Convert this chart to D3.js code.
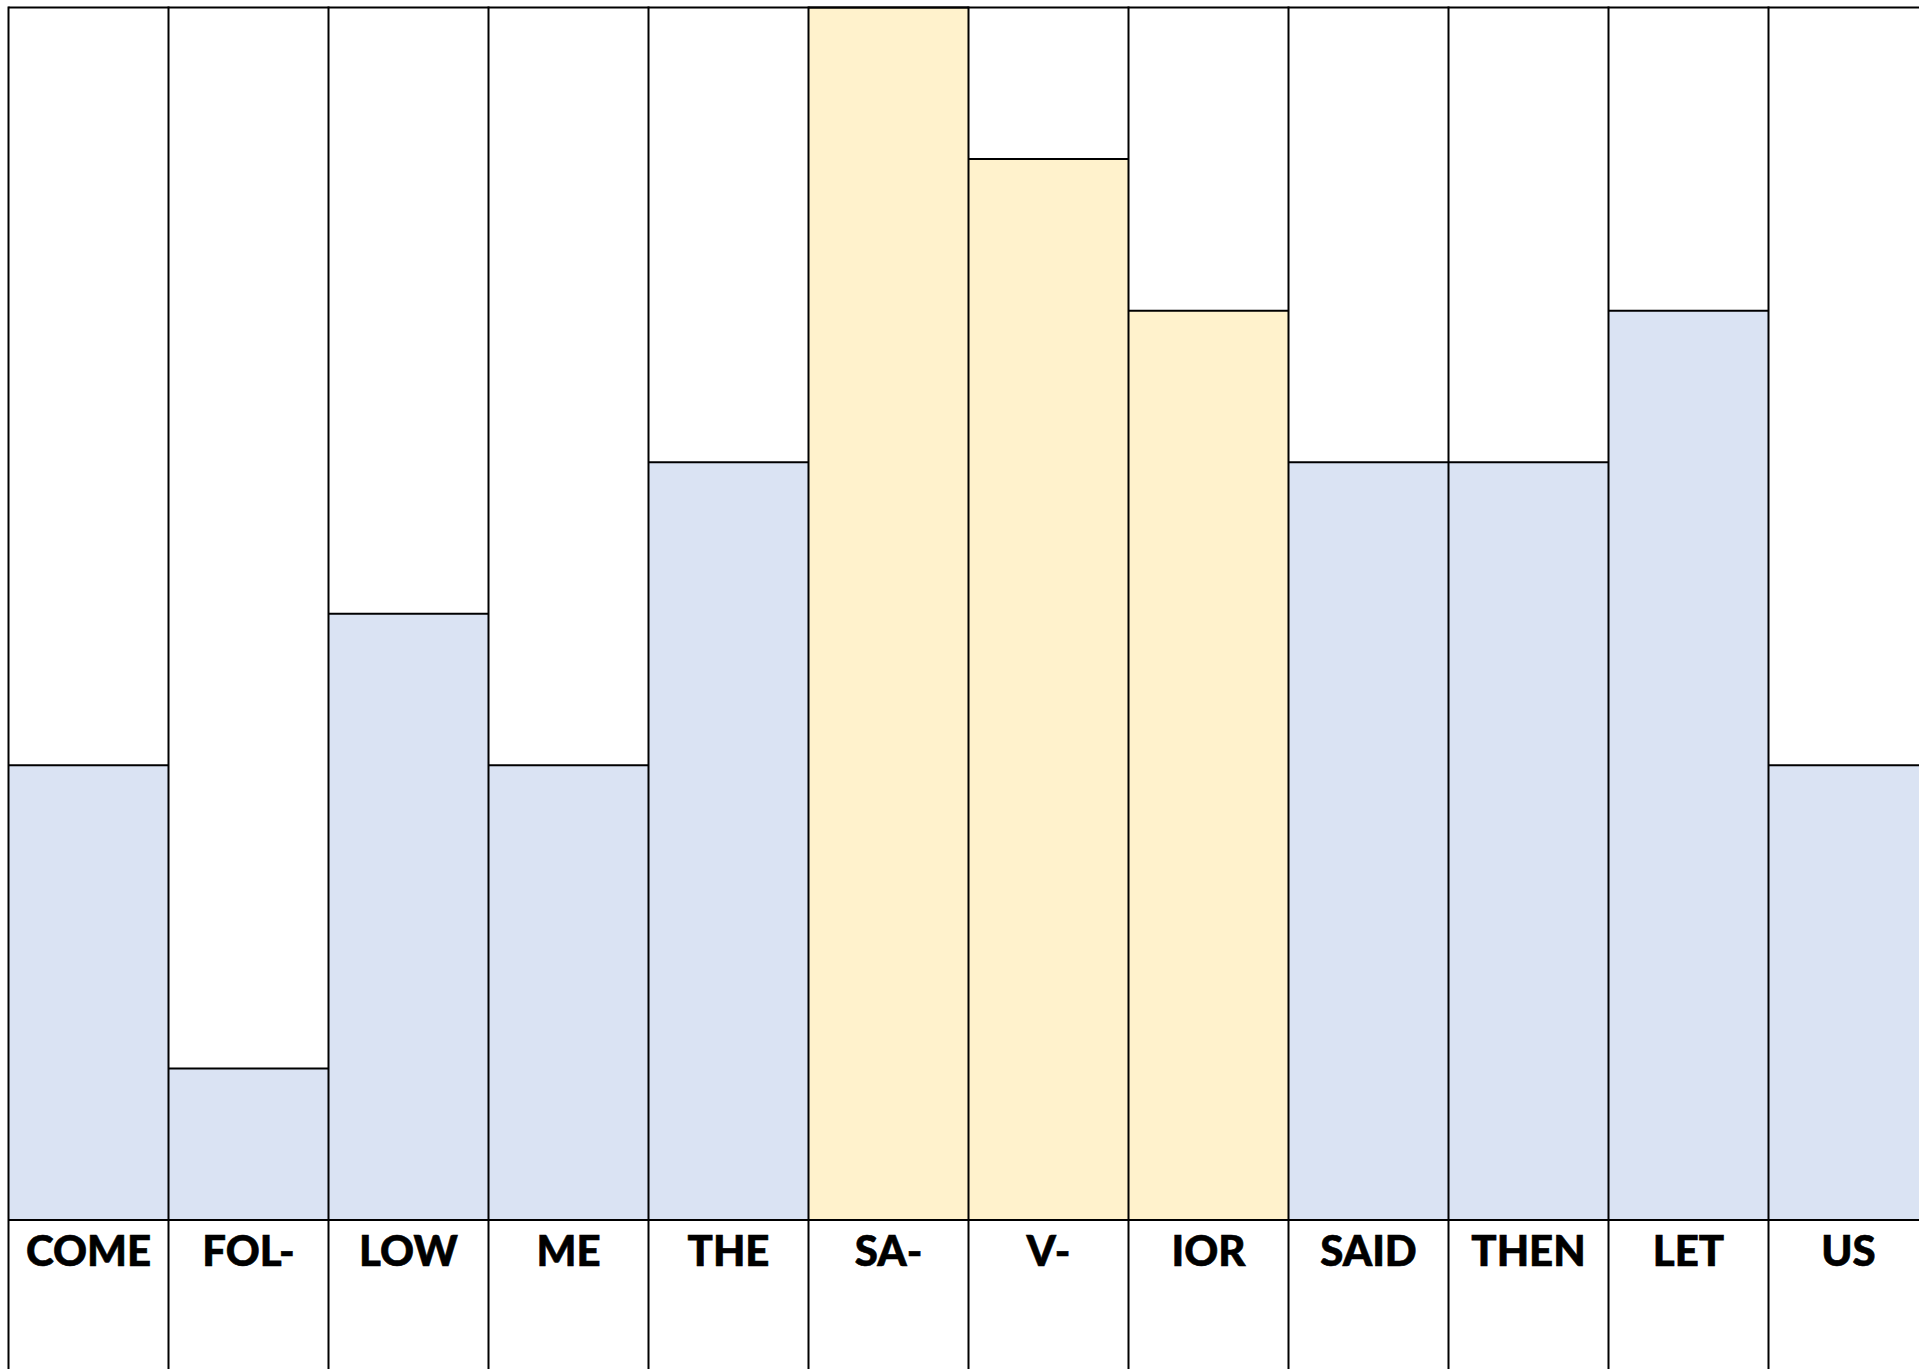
<!DOCTYPE html>
<html>
<head>
<meta charset="utf-8">
<script src="https://cdn.jsdelivr.net/npm/d3@7"></script>
<style>
  html, body { margin: 0; padding: 0; background: #fff; overflow: hidden; }
  .syll { font-family: Lato, "Open Sans", sans-serif; font-weight: 900; font-size: 42px; fill: #000; stroke: #000; stroke-width: 0.6px; }
</style>
</head>
<body>
<div id="chart"></div>
<script>
// Syllables of the song line and the pitch step of each note
var syllables = ["COME", "FOL-", "LOW", "ME", "THE", "SA-", "V-", "IOR", "SAID", "THEN", "LET", "US"];
var steps = [3, 1, 4, 3, 5, 8, 7, 6, 5, 5, 6, 3];
var highlighted = ["SA-", "V-", "IOR"];
var levels = [0, 1, 2, 3, 4, 5, 6, 7, 8];

var svgWidth = 1919;
var svgHeight = 1369;
var lineW = 2;

var svg = d3.select("#chart")
  .append("svg")
  .attr("width", svgWidth)
  .attr("height", svgHeight);

// Columns are 160px wide, starting just inside the left edge (last one is cut off)
var xScale = d3.scaleBand()
  .domain(syllables)
  .range([8.5, 8.5 + 160 * syllables.length])
  .padding(0);

var yScale = d3.scaleLinear()
  .domain([0, d3.max(levels)])
  .range([1220, 7.5]);

var baseY = yScale(0);
var topY = yScale(d3.max(levels));

// Colored bars
svg.selectAll(".bar")
  .data(syllables)
  .enter()
  .append("rect")
  .attr("class", "bar")
  .attr("x", function (d) { return xScale(d); })
  .attr("y", function (d, i) { return yScale(steps[i]); })
  .attr("width", xScale.bandwidth())
  .attr("height", function (d, i) { return baseY - yScale(steps[i]); })
  .attr("fill", function (d) { return highlighted.indexOf(d) >= 0 ? "#FFF2CC" : "#DAE3F3"; });

// Bar top edges
svg.selectAll(".bar-top")
  .data(syllables)
  .enter()
  .append("line")
  .attr("class", "bar-top")
  .attr("x1", function (d) { return xScale(d); })
  .attr("x2", function (d) { return xScale(d) + xScale.bandwidth(); })
  .attr("y1", function (d, i) { return yScale(steps[i]); })
  .attr("y2", function (d, i) { return yScale(steps[i]); })
  .attr("stroke", "#000")
  .attr("stroke-width", lineW);

// Top border and baseline
svg.selectAll(".hline")
  .data([topY, baseY])
  .enter()
  .append("line")
  .attr("class", "hline")
  .attr("x1", xScale.range()[0])
  .attr("x2", xScale.range()[1])
  .attr("y1", function (d) { return d; })
  .attr("y2", function (d) { return d; })
  .attr("stroke", "#000")
  .attr("stroke-width", lineW);

// Column dividers run all the way down through the label row
svg.selectAll(".vline")
  .data(syllables.concat(["_end"]))
  .enter()
  .append("line")
  .attr("class", "vline")
  .attr("x1", function (d, i) { return xScale.range()[0] + i * xScale.step(); })
  .attr("x2", function (d, i) { return xScale.range()[0] + i * xScale.step(); })
  .attr("y1", topY - lineW / 2)
  .attr("y2", svgHeight + 10)
  .attr("stroke", "#000")
  .attr("stroke-width", lineW);

// Syllable labels
svg.selectAll(".syll")
  .data(syllables)
  .enter()
  .append("text")
  .attr("class", "syll")
  .attr("x", function (d) { return xScale(d) + xScale.bandwidth() / 2; })
  .attr("y", 1266)
  .attr("text-anchor", "middle")
  .text(function (d) { return d; });
</script>
</body>
</html>
